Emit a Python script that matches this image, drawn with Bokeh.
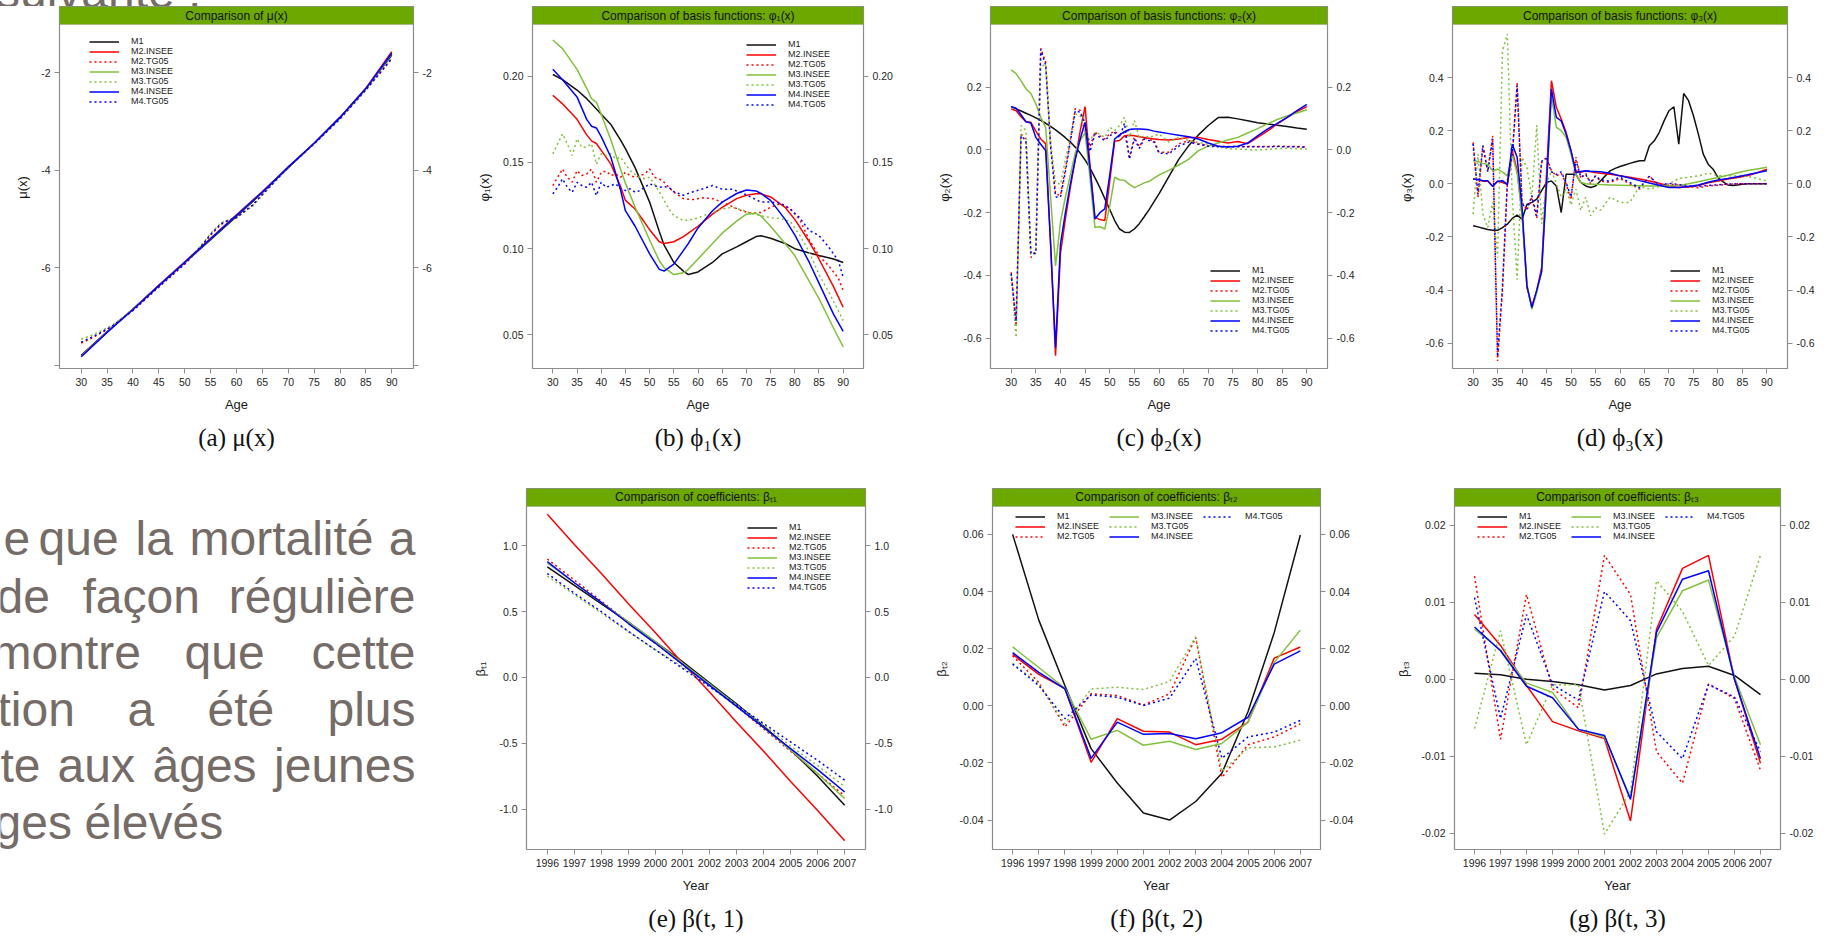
from bokeh.plotting import figure
from bokeh.models import (Range1d, LinearAxis, FixedTicker, PrintfTickFormatter, BoxAnnotation,
                          Label, Legend, LegendItem, Title, Div)
from bokeh.layouts import row, column
from bokeh.embed import file_html
from bokeh.resources import INLINE
from bokeh.core.properties import value

# ---------------------------------------------------------------- data
MODELS = ["M1", "M2.INSEE", "M2.TG05", "M3.INSEE", "M3.TG05", "M4.INSEE", "M4.TG05"]

# (a) mu(x)
mu_age = [30, 35, 40, 45, 50, 55, 60, 65, 70, 75, 80, 85, 90]
mu_M1 = [-7.80, -7.31, -6.85, -6.37, -5.90, -5.43, -4.95, -4.46, -3.95, -3.45, -2.92, -2.33, -1.64]
mu_M2_INSEE = [-7.82, -7.32, -6.85, -6.36, -5.88, -5.40, -4.92, -4.44, -3.94, -3.45, -2.92, -2.32, -1.57]
mu_M3_INSEE = [-7.82, -7.32, -6.85, -6.37, -5.89, -5.41, -4.93, -4.45, -3.94, -3.45, -2.93, -2.34, -1.61]
mu_M4_INSEE = [-7.83, -7.33, -6.86, -6.37, -5.89, -5.41, -4.93, -4.45, -3.94, -3.45, -2.92, -2.33, -1.60]
mu_age_tg = [30, 32, 34, 36, 40, 45, 50, 53, 55, 57, 58, 60, 63, 65, 70, 75, 80, 85, 88, 90]
mu_M2_TG05 = [-7.55, -7.45, -7.33, -7.20, -6.88, -6.40, -5.93, -5.60, -5.33, -5.12, -5.06, -4.98, -4.73, -4.50, -3.94, -3.46, -2.95, -2.36, -1.98, -1.72]
mu_M3_TG05 = [-7.47, -7.39, -7.29, -7.18, -6.87, -6.39, -5.91, -5.57, -5.30, -5.09, -5.04, -4.98, -4.75, -4.52, -3.95, -3.47, -2.95, -2.36, -1.97, -1.70]
mu_M4_TG05 = [-7.53, -7.43, -7.32, -7.20, -6.88, -6.39, -5.92, -5.58, -5.32, -5.10, -5.05, -4.97, -4.73, -4.50, -3.94, -3.46, -2.95, -2.35, -1.97, -1.71]

# (b) phi1(x)
phi1_age = [30, 32, 35, 37, 38, 39, 40, 42, 44, 45, 47, 50, 52, 53, 55, 57, 58, 60, 63, 65, 68, 70, 72, 73, 75, 78, 80, 83, 85, 88, 90]
phi1_M1 = [0.201, 0.198, 0.192, 0.187, 0.184, 0.181, 0.178, 0.172, 0.163, 0.158, 0.147, 0.127, 0.110, 0.102, 0.092, 0.087, 0.085, 0.0865, 0.092, 0.097, 0.101, 0.104, 0.107, 0.1075, 0.106, 0.103, 0.100, 0.0975, 0.096, 0.094, 0.092]
phi1_M2_INSEE = [0.189, 0.184, 0.175, 0.166, 0.1625, 0.161, 0.157, 0.149, 0.136, 0.128, 0.123, 0.111, 0.104, 0.103, 0.104, 0.107, 0.109, 0.113, 0.120, 0.124, 0.129, 0.131, 0.1318, 0.1318, 0.130, 0.124, 0.117, 0.104, 0.094, 0.078, 0.066]
phi1_M3_INSEE = [0.221, 0.216, 0.204, 0.193, 0.187, 0.185, 0.178, 0.163, 0.146, 0.138, 0.124, 0.105, 0.093, 0.089, 0.085, 0.086, 0.088, 0.094, 0.103, 0.109, 0.116, 0.120, 0.1205, 0.119, 0.113, 0.103, 0.096, 0.081, 0.071, 0.054, 0.043]
phi1_M4_INSEE = [0.204, 0.198, 0.188, 0.175, 0.171, 0.170, 0.165, 0.153, 0.134, 0.122, 0.113, 0.097, 0.088, 0.087, 0.091, 0.099, 0.103, 0.112, 0.122, 0.127, 0.132, 0.134, 0.1335, 0.132, 0.128, 0.117, 0.108, 0.092, 0.080, 0.062, 0.052]
phi1_age_tg = list(range(30, 56)) + [57, 59, 61, 63, 65, 67, 69, 71, 73, 75, 77, 79, 81, 83, 85, 87, 89, 90]
phi1_M2_TG05 = [0.1366, 0.1414, 0.1462, 0.1414, 0.1385, 0.1453, 0.1424, 0.1433, 0.1462, 0.1385, 0.1443, 0.1450, 0.1424, 0.1433, 0.1414, 0.1443, 0.1424, 0.1414, 0.1424, 0.1433, 0.1462, 0.1414, 0.1405, 0.1385, 0.1356, 0.1327,
                0.1290, 0.1285, 0.1295, 0.1290, 0.1270, 0.1245, 0.1220, 0.1205, 0.1210, 0.1240, 0.1260, 0.1235, 0.1170, 0.1050, 0.0960, 0.0900, 0.0830, 0.0757]
phi1_M3_TG05 = [0.1550, 0.1608, 0.1666, 0.1608, 0.1540, 0.1637, 0.1588, 0.1590, 0.1608, 0.1490, 0.1550, 0.1540, 0.1550, 0.1520, 0.1530, 0.1490, 0.1453, 0.1430, 0.1414, 0.1405, 0.1414, 0.1375, 0.1330, 0.1280, 0.1230, 0.1192,
                0.1163, 0.1170, 0.1190, 0.1210, 0.1230, 0.1240, 0.1225, 0.1205, 0.1190, 0.1180, 0.1175, 0.1160, 0.1080, 0.0980, 0.0850, 0.0750, 0.0640, 0.0583]
phi1_M4_TG05 = [0.1318, 0.1356, 0.1405, 0.1356, 0.1327, 0.1385, 0.1366, 0.1356, 0.1385, 0.1308, 0.1385, 0.1356, 0.1366, 0.1376, 0.1347, 0.1337, 0.1347, 0.1327, 0.1337, 0.1356, 0.1376, 0.1366, 0.1356, 0.1360, 0.1356, 0.1330,
                0.1310, 0.1330, 0.1347, 0.1366, 0.1345, 0.1345, 0.1325, 0.1298, 0.1270, 0.1270, 0.1265, 0.1230, 0.1180, 0.1105, 0.1076, 0.1010, 0.0930, 0.0834]

# (c) phi2(x)
phi2_age = list(range(30, 61)) + list(range(62, 91, 2))
phi2_M1 = [0.138, 0.131, 0.124, 0.117, 0.110, 0.102, 0.094, 0.085, 0.075, 0.064, 0.052, 0.039, 0.025, 0.009, -0.010, -0.032, -0.058, -0.088, -0.120, -0.155, -0.190, -0.225, -0.252, -0.262, -0.263, -0.252, -0.235, -0.213, -0.190, -0.165, -0.140,
           -0.085, -0.030, 0.013, 0.048, 0.078, 0.103, 0.104, 0.099, 0.093, 0.087, 0.083, 0.079, 0.075, 0.070, 0.066]
phi2_M2_INSEE = [0.131, 0.125, 0.106, 0.090, 0.088, 0.060, 0.035, 0.020, -0.300, -0.656, -0.330, -0.220, -0.120, -0.030, 0.060, 0.138, -0.050, -0.215, -0.222, -0.225, -0.100, 0.028, 0.030, 0.045, 0.047, 0.045, 0.042, 0.040, 0.037, 0.035, 0.033,
                 0.032, 0.035, 0.040, 0.040, 0.033, 0.028, 0.022, 0.027, 0.020, 0.040, 0.060, 0.083, 0.103, 0.122, 0.138]
phi2_M2_TG05 = [-0.390, -0.560, 0.050, 0.035, -0.343, -0.320, 0.324, 0.280, 0.020, -0.140, -0.145, -0.060, 0.030, 0.131, 0.126, 0.072, 0.010, 0.056, 0.045, 0.035, 0.051, 0.060, 0.045, 0.056, -0.023, 0.040, 0.010, 0.040, 0.032, 0.030, -0.007,
                -0.007, 0.019, 0.030, 0.020, 0.014, 0.012, 0.011, 0.011, 0.011, 0.011, 0.011, 0.012, 0.011, 0.011, 0.009]
phi2_M3_INSEE = [0.255, 0.243, 0.220, 0.195, 0.180, 0.147, 0.104, 0.072, -0.150, -0.370, -0.230, -0.150, -0.080, -0.010, 0.030, 0.055, -0.090, -0.247, -0.245, -0.252, -0.180, -0.087, -0.095, -0.097, -0.110, -0.120, -0.113, -0.105, -0.100, -0.090, -0.080,
                 -0.065, -0.048, -0.030, -0.002, 0.012, 0.022, 0.032, 0.040, 0.054, 0.068, 0.083, 0.097, 0.108, 0.118, 0.128]
phi2_M3_TG05 = [-0.396, -0.598, 0.078, 0.062, -0.332, -0.330, 0.264, 0.274, 0.020, -0.103, -0.110, -0.030, 0.040, 0.115, 0.110, 0.051, 0.030, 0.056, 0.050, 0.040, 0.072, 0.062, 0.078, 0.104, 0.040, 0.094, 0.040, 0.045, 0.040, 0.045, 0.051,
                0.025, 0.040, 0.030, 0.024, 0.018, 0.010, 0.004, 0.003, 0.001, 0.000, 0.002, 0.004, 0.005, 0.004, 0.003]
phi2_M4_INSEE = [0.138, 0.133, 0.112, 0.090, 0.086, 0.040, 0.018, -0.002, -0.300, -0.630, -0.300, -0.200, -0.110, -0.030, 0.035, 0.088, -0.060, -0.220, -0.200, -0.188, -0.080, 0.035, 0.048, 0.058, 0.065, 0.067, 0.067, 0.066, 0.064, 0.060, 0.057,
                 0.052, 0.047, 0.042, 0.035, 0.022, 0.012, 0.009, 0.012, 0.022, 0.045, 0.066, 0.085, 0.104, 0.125, 0.145]
phi2_M4_TG05 = [-0.395, -0.545, 0.045, 0.030, -0.330, -0.330, 0.320, 0.270, 0.010, -0.150, -0.150, -0.070, 0.025, 0.125, 0.120, 0.085, -0.005, 0.050, 0.040, 0.030, 0.045, 0.055, 0.040, 0.085, -0.030, 0.035, 0.005, 0.035, 0.030, 0.025, -0.010,
                -0.012, 0.012, 0.025, 0.018, 0.012, 0.010, 0.010, 0.010, 0.010, 0.010, 0.010, 0.011, 0.010, 0.010, 0.008]

# (d) phi3(x)
phi3_age_M1 = list(range(30, 91))
phi3_M1 = [-0.158, -0.162, -0.167, -0.172, -0.175, -0.175, -0.165, -0.152, -0.130, -0.118, -0.133, -0.078, -0.070, -0.058, -0.026, 0.005, 0.011, -0.008, -0.108, 0.036,
           0.036, 0.036, 0.005, -0.008, -0.014, -0.008, 0.011, 0.030, 0.049, 0.058, 0.065, 0.071, 0.077, 0.082, 0.087, 0.087, 0.143, 0.162, 0.193, 0.237,
           0.275, 0.290, 0.149, 0.340, 0.313, 0.256, 0.187, 0.112, 0.074, 0.055, 0.024, 0.008, -0.004, -0.006, -0.004, -0.002, 0.000, 0.000, 0.000, 0.000, 0.000]
phi3_age = list(range(30, 57)) + list(range(58, 91, 2))
phi3_M2_INSEE = [0.018, 0.016, 0.010, 0.010, -0.008, 0.010, 0.005, -0.002, 0.124, 0.050, -0.110, -0.390, -0.460, -0.403, -0.315, 0.040, 0.388, 0.288, 0.244, 0.193, 0.124, 0.049, 0.043, 0.049, 0.045, 0.043, 0.040,
                 0.036, 0.030, 0.025, 0.018, 0.011, 0.002, -0.008, -0.014, -0.012, -0.006, 0.004, 0.011, 0.018, 0.024, 0.030, 0.042, 0.055]
phi3_M2_TG05 = [0.156, -0.050, 0.140, 0.050, 0.181, -0.667, -0.400, 0.000, 0.100, 0.380, -0.070, -0.100, -0.050, -0.130, 0.080, 0.100, 0.050, 0.030, 0.040, 0.000, -0.060, 0.100, 0.020, 0.040, 0.000, 0.030, 0.010,
                0.005, 0.020, 0.000, -0.020, 0.030, -0.010, 0.000, -0.005, -0.010, -0.015, -0.008, -0.005, -0.002, 0.000, 0.000, 0.000, 0.000]
phi3_M3_INSEE = [0.087, 0.084, 0.077, 0.073, 0.049, 0.055, 0.045, 0.030, 0.110, 0.040, -0.120, -0.378, -0.472, -0.410, -0.330, -0.010, 0.332, 0.212, 0.200, 0.175, 0.112, 0.036, 0.005, 0.000, -0.002, -0.002, -0.003,
                 -0.004, -0.005, -0.006, -0.007, -0.008, -0.008, -0.008, -0.006, 0.000, 0.008, 0.016, 0.024, 0.032, 0.042, 0.050, 0.056, 0.062]
phi3_M3_TG05 = [-0.114, 0.112, -0.114, -0.165, -0.070, -0.278, 0.500, 0.564, -0.050, -0.360, 0.100, 0.060, -0.050, 0.220, -0.150, 0.000, 0.050, 0.000, -0.050, -0.020, -0.080, -0.020, -0.100, -0.050, -0.120, -0.090, -0.100,
                -0.050, -0.070, -0.070, -0.010, -0.020, -0.010, 0.000, 0.020, 0.025, 0.030, 0.040, 0.030, 0.030, 0.030, 0.028, 0.020, 0.010]
phi3_M4_INSEE = [0.018, 0.016, 0.012, 0.012, -0.010, 0.010, 0.012, -0.002, 0.149, 0.100, -0.089, -0.384, -0.466, -0.400, -0.330, 0.000, 0.357, 0.250, 0.237, 0.187, 0.124, 0.042, 0.046, 0.049, 0.047, 0.046, 0.045,
                 0.040, 0.030, 0.022, 0.012, 0.003, -0.005, -0.014, -0.014, -0.010, -0.004, 0.006, 0.014, 0.020, 0.027, 0.034, 0.042, 0.049]
phi3_M4_TG05 = [0.150, -0.040, 0.145, 0.045, 0.170, -0.650, -0.390, 0.010, 0.110, 0.370, -0.075, -0.095, -0.045, -0.120, 0.085, 0.095, 0.045, 0.035, 0.045, 0.005, -0.050, 0.090, 0.025, 0.035, 0.005, 0.030, 0.015,
                0.010, 0.025, 0.005, -0.015, 0.028, -0.005, 0.002, -0.003, -0.008, -0.010, -0.006, -0.004, -0.001, 0.000, 0.000, 0.000, 0.000]

# (e)-(g) beta(t, k)
years = [1996, 1997, 1998, 1999, 2000, 2001, 2002, 2003, 2004, 2005, 2006, 2007]
b1_M1 = [0.84, 0.70, 0.56, 0.42, 0.27, 0.12, -0.04, -0.20, -0.37, -0.55, -0.75, -0.97]
b1_M2_INSEE = [1.24, 1.01, 0.79, 0.56, 0.34, 0.11, -0.11, -0.34, -0.56, -0.79, -1.01, -1.24]
b1_M2_TG05 = [0.90, 0.74, 0.58, 0.42, 0.26, 0.10, -0.06, -0.22, -0.39, -0.56, -0.73, -0.90]
b1_M3_INSEE = [0.87, 0.72, 0.57, 0.42, 0.27, 0.11, -0.05, -0.21, -0.38, -0.55, -0.73, -0.92]
b1_M3_TG05 = [0.77, 0.63, 0.49, 0.35, 0.21, 0.08, -0.06, -0.21, -0.36, -0.52, -0.67, -0.83]
b1_M4_INSEE = [0.88, 0.72, 0.57, 0.41, 0.26, 0.10, -0.06, -0.22, -0.38, -0.54, -0.70, -0.87]
b1_M4_TG05 = [0.79, 0.64, 0.50, 0.35, 0.21, 0.07, -0.07, -0.21, -0.35, -0.49, -0.63, -0.78]

b2_M1 = [0.060, 0.030, 0.007, -0.015, -0.027, -0.0375, -0.040, -0.0335, -0.0236, -0.002, 0.0256, 0.0598]
b2_M2_INSEE = [0.018, 0.011, 0.006, -0.0198, -0.0045, -0.0089, -0.0092, -0.0136, -0.0117, -0.0057, 0.0167, 0.0206]
b2_M2_TG05 = [0.0175, 0.0082, -0.0074, 0.0042, 0.0036, 0.0003, 0.0042, 0.0239, -0.0251, -0.0136, -0.0109, -0.0063]
b2_M3_INSEE = [0.0206, 0.0134, 0.0061, -0.0117, -0.0086, -0.0138, -0.0124, -0.0153, -0.0132, -0.0057, 0.0152, 0.0265]
b2_M3_TG05 = [0.0149, 0.0076, -0.0063, 0.0059, 0.0065, 0.0057, 0.0085, 0.0242, -0.0230, -0.0147, -0.0144, -0.0120]
b2_M4_INSEE = [0.0186, 0.0117, 0.0059, -0.0184, -0.0057, -0.0100, -0.0097, -0.0115, -0.0094, -0.0040, 0.0146, 0.0192]
b2_M4_TG05 = [0.0146, 0.0071, -0.0045, 0.0038, 0.0030, 0.0001, 0.0027, 0.0166, -0.0184, -0.0109, -0.0092, -0.0051]

b3_M1 = [0.0008, 0.0006, 0.0000, -0.0003, -0.0007, -0.0014, -0.0008, 0.0007, 0.0014, 0.0017, 0.0005, -0.0020]
b3_M2_INSEE = [0.0084, 0.0044, -0.0008, -0.0055, -0.0067, -0.0077, -0.0184, 0.0065, 0.0144, 0.0161, 0.0000, -0.0109]
b3_M2_TG05 = [0.0134, -0.0078, 0.0110, -0.0012, -0.0037, 0.0161, 0.0110, -0.0094, -0.0135, -0.0006, -0.0025, -0.0118]
b3_M3_INSEE = [0.0065, 0.0038, -0.0005, -0.0017, -0.0065, -0.0075, -0.0154, 0.0054, 0.0115, 0.0129, 0.0003, -0.0085]
b3_M3_TG05 = [-0.0064, 0.0063, -0.0085, -0.0007, -0.0007, -0.0201, -0.0146, 0.0128, 0.0088, 0.0018, 0.0056, 0.0161]
b3_M4_INSEE = [0.0068, 0.0037, -0.0009, -0.0024, -0.0065, -0.0073, -0.0156, 0.0061, 0.0130, 0.0141, 0.0000, -0.0103]
b3_M4_TG05 = [0.0106, -0.0051, 0.0084, -0.0007, -0.0027, 0.0114, 0.0076, -0.0068, -0.0103, -0.0007, -0.0023, -0.0094]

age_ticks = [30, 35, 40, 45, 50, 55, 60, 65, 70, 75, 80, 85, 90]

# ---------------------------------------------------------------- style
FONT = "Liberation Sans"
STRIP = "#6ca800"
BOX = "#8c8c8c"
TEXT_C = "#756b67"
COLORS = {"M1": "#111111", "M2.INSEE": "#ff0000", "M2.TG05": "#ff0000",
          "M3.INSEE": "#80c03a", "M3.TG05": "#80c03a", "M4.INSEE": "#0000ff", "M4.TG05": "#0000ff"}
DASHES = {"M1": "solid", "M2.INSEE": "solid", "M2.TG05": "2 3", "M3.INSEE": "solid",
          "M3.TG05": "2 3", "M4.INSEE": "solid", "M4.TG05": "2 3"}


def panel(series, xr, yr, xticks, yticks, yfmt, title, ylabel, xlabel, caption,
          mbl, fw, mbr, mbt, fh, mbb, leg_loc, leg_margin, leg_cols=1, overrides=None):
    strip_px = 18
    y_lo, y_hi = yr
    y_top = y_hi + (y_hi - y_lo) * strip_px / (fh - strip_px)
    p = figure(width=mbl + fw + mbr, height=mbt + fh + mbb,
               min_border_left=mbl, min_border_right=mbr, min_border_top=mbt, min_border_bottom=mbb,
               x_range=Range1d(xr[0], xr[1]), y_range=Range1d(y_lo, y_top),
               toolbar_location=None, output_backend="svg")
    p.grid.visible = False
    p.outline_line_color = BOX
    p.outline_line_width = 1.2

    p.xaxis.ticker = FixedTicker(ticks=xticks)
    p.yaxis.ticker = FixedTicker(ticks=yticks)
    p.yaxis.formatter = PrintfTickFormatter(format=yfmt)
    p.xaxis.axis_label = xlabel
    p.yaxis.axis_label = ylabel
    right = LinearAxis(ticker=FixedTicker(ticks=yticks), formatter=PrintfTickFormatter(format=yfmt))
    p.add_layout(right, "right")
    if overrides:
        p.yaxis.major_label_overrides = overrides
    for ax in p.axis:
        ax.axis_line_color = None
        ax.major_tick_in = 0
        ax.major_tick_out = 5
        ax.major_tick_line_color = BOX
        ax.minor_tick_line_color = None
        ax.major_label_text_font = FONT
        ax.major_label_text_font_size = "10.5px"
        ax.major_label_text_color = "#262626"
        ax.major_label_standoff = 4
        ax.axis_label_text_font = FONT
        ax.axis_label_text_font_size = "13px"
        ax.axis_label_text_font_style = "normal"
        ax.axis_label_text_color = "#1a1a1a"
        ax.axis_label_standoff = 8

    # strip (lattice-style title bar)
    p.add_layout(BoxAnnotation(bottom=y_hi, fill_color=STRIP, fill_alpha=1.0,
                               line_color=BOX, line_width=1))
    p.add_layout(Label(x=(xr[0] + xr[1]) / 2, y=(y_hi + y_top) / 2, text=title,
                       text_align="center", text_baseline="middle", text_font=FONT,
                       text_font_size="12px", text_color="#111111"))

    items = []
    for m in MODELS:
        xs, ys = series[m]
        r = p.line(xs, ys, line_color=COLORS[m], line_width=1.5, line_dash=DASHES[m])
        items.append(LegendItem(label=m, renderers=[r]))
    kw = dict(items=items, location=leg_loc, border_line_color=None, background_fill_alpha=0,
              label_text_font=FONT, label_text_font_size="9px", label_text_color="#222222",
              glyph_width=30, glyph_height=9, label_height=9, spacing=0, padding=0,
              margin=leg_margin, label_standoff=12)
    if leg_cols > 1:
        kw["ncols"] = leg_cols
        kw["label_width"] = 52
    p.add_layout(Legend(**kw))

    p.add_layout(Title(text=caption, align="center", text_font="Liberation Serif",
                       text_font_size="25px", text_font_style="normal", text_color="#111111",
                       standoff=15), "below")
    return p


def S(*pairs):
    return {m: pr for m, pr in zip(MODELS, pairs)}


TOP_MBT, TOP_FH, TOP_MBB = 0, 362, 102
BOT_MBT, BOT_FH, BOT_MBB = 18, 363, 88

pa = panel(S((mu_age, mu_M1), (mu_age, mu_M2_INSEE), (mu_age_tg, mu_M2_TG05),
             (mu_age, mu_M3_INSEE), (mu_age_tg, mu_M3_TG05), (mu_age, mu_M4_INSEE),
             (mu_age_tg, mu_M4_TG05)),
           (25.8, 94.2), (-8.07, -1.015), age_ticks, [-8, -6, -4, -2], "%d",
           "Comparison of μ(x)", "μ(x)", "Age", "(a) μ(x)",
           59, 354, 57, TOP_MBT, TOP_FH, TOP_MBB, "top_left", 30, overrides={-8: ""})
pb = panel(S((phi1_age, phi1_M1), (phi1_age, phi1_M2_INSEE), (phi1_age_tg, phi1_M2_TG05),
             (phi1_age, phi1_M3_INSEE), (phi1_age_tg, phi1_M3_TG05), (phi1_age, phi1_M4_INSEE),
             (phi1_age_tg, phi1_M4_TG05)),
           (25.8, 94.2), (0.0305, 0.230), age_ticks, [0.05, 0.10, 0.15, 0.20], "%.2f",
           "Comparison of basis functions: φ₁(x)", "φ₁(x)", "Age", "(b) ϕ₁(x)",
           62, 331, 62, TOP_MBT, TOP_FH, TOP_MBB, "top_right", 33)
pc = panel(S((phi2_age, phi2_M1), (phi2_age, phi2_M2_INSEE), (phi2_age, phi2_M2_TG05),
             (phi2_age, phi2_M3_INSEE), (phi2_age, phi2_M3_TG05), (phi2_age, phi2_M4_INSEE),
             (phi2_age, phi2_M4_TG05)),
           (25.8, 94.2), (-0.6966, 0.3998), age_ticks, [-0.6, -0.4, -0.2, 0.0, 0.2], "%.1f",
           "Comparison of basis functions: φ₂(x)", "φ₂(x)", "Age", "(c) ϕ₂(x)",
           65, 337, 58, TOP_MBT, TOP_FH, TOP_MBB, "bottom_right", 33)
pd_ = panel(S((phi3_age_M1, phi3_M1), (phi3_age, phi3_M2_INSEE), (phi3_age, phi3_M2_TG05),
              (phi3_age, phi3_M3_INSEE), (phi3_age, phi3_M3_TG05), (phi3_age, phi3_M4_INSEE),
              (phi3_age, phi3_M4_TG05)),
            (25.8, 94.2), (-0.695, 0.5996), age_ticks, [-0.6, -0.4, -0.2, 0.0, 0.2, 0.4], "%.1f",
            "Comparison of basis functions: φ₃(x)", "φ₃(x)", "Age", "(d) ϕ₃(x)",
            67, 335, 44, TOP_MBT, TOP_FH, TOP_MBB, "bottom_right", 33)
pe = panel(S((years, b1_M1), (years, b1_M2_INSEE), (years, b1_M2_TG05), (years, b1_M3_INSEE),
             (years, b1_M3_TG05), (years, b1_M4_INSEE), (years, b1_M4_TG05)),
           (1995.23, 2007.77), (-1.307, 1.30), years, [-1.0, -0.5, 0.0, 0.5, 1.0], "%.1f",
           "Comparison of coefficients: βₜ₁", "βₜ₁", "Year", "(e) β(t, 1)",
           56, 339, 60, BOT_MBT, BOT_FH, BOT_MBB, "top_right", 34)
pf = panel(S((years, b2_M1), (years, b2_M2_INSEE), (years, b2_M2_TG05), (years, b2_M3_INSEE),
             (years, b2_M3_TG05), (years, b2_M4_INSEE), (years, b2_M4_TG05)),
           (1995.23, 2007.77), (-0.0503, 0.0698), years, [-0.04, -0.02, 0.0, 0.02, 0.04, 0.06], "%.2f",
           "Comparison of coefficients: βₜ₂", "βₜ₂", "Year", "(f) β(t, 2)",
           67, 328, 65, BOT_MBT, BOT_FH, BOT_MBB, "top_left", 23, leg_cols=3)
pg = panel(S((years, b3_M1), (years, b3_M2_INSEE), (years, b3_M2_TG05), (years, b3_M3_INSEE),
             (years, b3_M3_TG05), (years, b3_M4_INSEE), (years, b3_M4_TG05)),
           (1995.23, 2007.77), (-0.0221, 0.02245), years, [-0.02, -0.01, 0.0, 0.01, 0.02], "%.2f",
           "Comparison of coefficients: βₜ₃", "βₜ₃", "Year", "(g) β(t, 3)",
           69, 326, 51, BOT_MBT, BOT_FH, BOT_MBB, "top_left", 23, leg_cols=3)

# ---------------------------------------------------------------- slide text
MID = 16.6   # baseline -> middle of the 48px line box
# 6 px band at the very top: only the foot of the previous slide line shows
top_band = Div(text=('<div style="position:relative; top:-36px; left:-4px; white-space:nowrap; '
                     'font-family:\'Liberation Sans\'; font-size:48px; line-height:normal; '
                     'color:%s;">suivante :</div>' % TEXT_C),
               width=470, height=6, styles={"overflow": "hidden", "margin": "0", "padding": "0"})

txt = figure(width=470, height=BOT_MBT + BOT_FH + BOT_MBB, min_border_left=0, min_border_right=0,
             min_border_top=BOT_MBT, min_border_bottom=BOT_MBB,
             x_range=Range1d(0, 470), y_range=Range1d(BOT_MBT + BOT_FH, BOT_MBT),
             x_axis_type=None, y_axis_type=None, toolbar_location=None, output_backend="svg")
txt.outline_line_color = None
left_words = ["e", "que", "la", "mortalité",
              "de", "façon",
              "montre", "que",
              "tion", "a", "été",
              "te", "aux", "âges",
              "ges", "élevés"]
left_x = [3, 38, 135, 189, -4, 82, -9, 184, -3, 127, 207, 0, 57, 152, -6, 84]
left_base = [85, 85, 85, 85, 143, 143, 200, 200, 257, 257, 257, 313, 313, 313, 370, 370]
right_words = ["a", "régulière", "cette", "plus", "jeunes"]
right_base = [85, 143, 200, 257, 313]
txt.text(x=left_x, y=[b - MID for b in left_base], text=left_words, text_font=value(FONT),
         text_font_size="48px", text_color=TEXT_C, text_align="left", text_baseline="middle")
txt.text(x=[415] * len(right_words), y=[b - MID for b in right_base], text=right_words,
         text_font=value(FONT), text_font_size="48px", text_color=TEXT_C, text_align="right",
         text_baseline="middle")

layout = column(top_band, row(pa, pb, pc, pd_), row(txt, pe, pf, pg))
open("out.html", "w").write(file_html(layout, INLINE))
